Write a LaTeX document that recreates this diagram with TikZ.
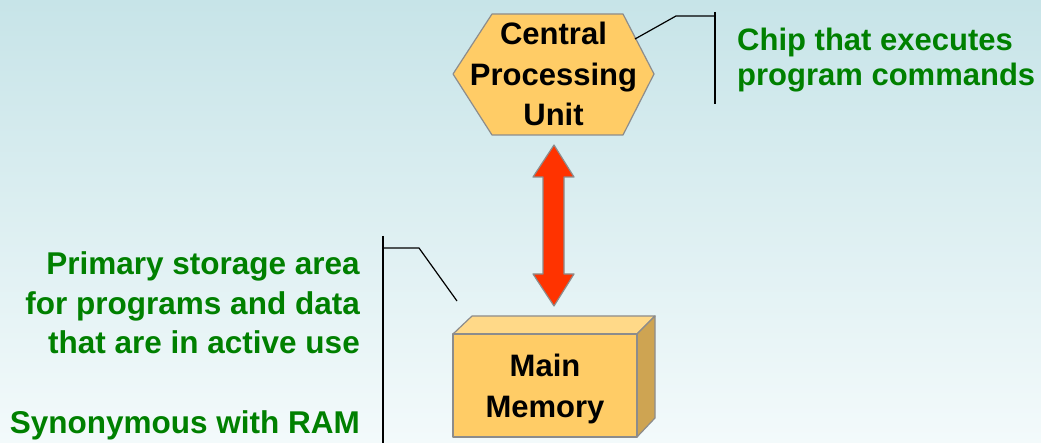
\documentclass[tikz,border=0pt]{standalone}
\usepackage{fontspec}
\setmainfont{Liberation Sans}
\definecolor{bgtop}{RGB}{199,228,232}
\definecolor{bgbot}{RGB}{243,250,251}
\definecolor{boxfill}{RGB}{255,204,102}
\definecolor{boxtop}{RGB}{255,217,136}
\definecolor{boxside}{RGB}{206,164,82}
\definecolor{edgegray}{RGB}{140,140,140}
\definecolor{arrowred}{RGB}{255,51,0}
\definecolor{notegreen}{RGB}{0,128,0}
\tikzset{
  shapeline/.style={draw=edgegray, line width=1.2pt, line join=round},
  boxtext/.style={font=\fontsize{31}{40.5}\selectfont\bfseries, align=center, inner sep=0pt},
  notetext/.style={font=\fontsize{31.5}{39.5}\selectfont\bfseries, text=notegreen, inner sep=0pt},
  leader/.style={draw=black, line width=1.2pt},
  barline/.style={draw=black, line width=1.8pt},
}
\begin{document}
\begin{tikzpicture}[x=1pt,y=-1pt]
\shade[top color=bgtop, bottom color=bgbot] (0,0) rectangle (1041,443);
\useasboundingbox (0,0) rectangle (1041,443);

% CPU hexagon
\draw[shapeline, fill=boxfill] (453,74) -- (492,14) -- (623,14) -- (654,74) -- (623,135) -- (492,135) -- cycle;
\node[boxtext, anchor=base] (cpu) at (553.5,126) {Central\\Processing\\Unit};

% Main memory box
\draw[shapeline, fill=boxtop] (453,334) -- (472,316) -- (655,316) -- (637,334) -- cycle;
\draw[shapeline, fill=boxside] (637,334) -- (655,316) -- (655,418) -- (637,437) -- cycle;
\draw[shapeline, fill=boxfill] (453,334) rectangle (637,437);
\node[boxtext, anchor=base] (mem) at (545,417) {Main\\Memory};

% double arrow between CPU and memory
\coordinate (atop) at (554,145);
\coordinate (abot) at (554,306);
\draw[shapeline, fill=arrowred] (atop) -- ++(-21,32) -- ++(10,0) -- ++(0,97) -- ++(-10,0) -- (abot)
  -- ++(20,-32) -- ++(-10,0) -- ++(0,-97) -- ++(10,0) -- cycle;

% CPU callout
\coordinate (c1) at (635,39);
\coordinate (c2) at (676,16);
\coordinate (c3) at (715,16);
\coordinate (c4) at (715,12);
\coordinate (c5) at (715,104);
\draw[leader] (c1) -- (c2) -- (c3);
\draw[barline] (c4) -- (c5);
\node[notetext, align=left, anchor=base west, font=\fontsize{31}{35}\selectfont\bfseries] (chip) at (737,86) {Chip that executes\\program commands};

% Memory callout
\coordinate (m1) at (457,301);
\coordinate (m2) at (419,248);
\coordinate (m3) at (383,248);
\coordinate (m4) at (383,236);
\coordinate (m5) at (383,443);
\draw[leader] (m1) -- (m2) -- (m3);
\draw[barline] (m4) -- (m5);
\node[notetext, align=right, anchor=base east] (prim) at (360,433) {Primary storage area\\for programs and data\\that are in active use\\[40pt]Synonymous with RAM};
\end{tikzpicture}
\end{document}
